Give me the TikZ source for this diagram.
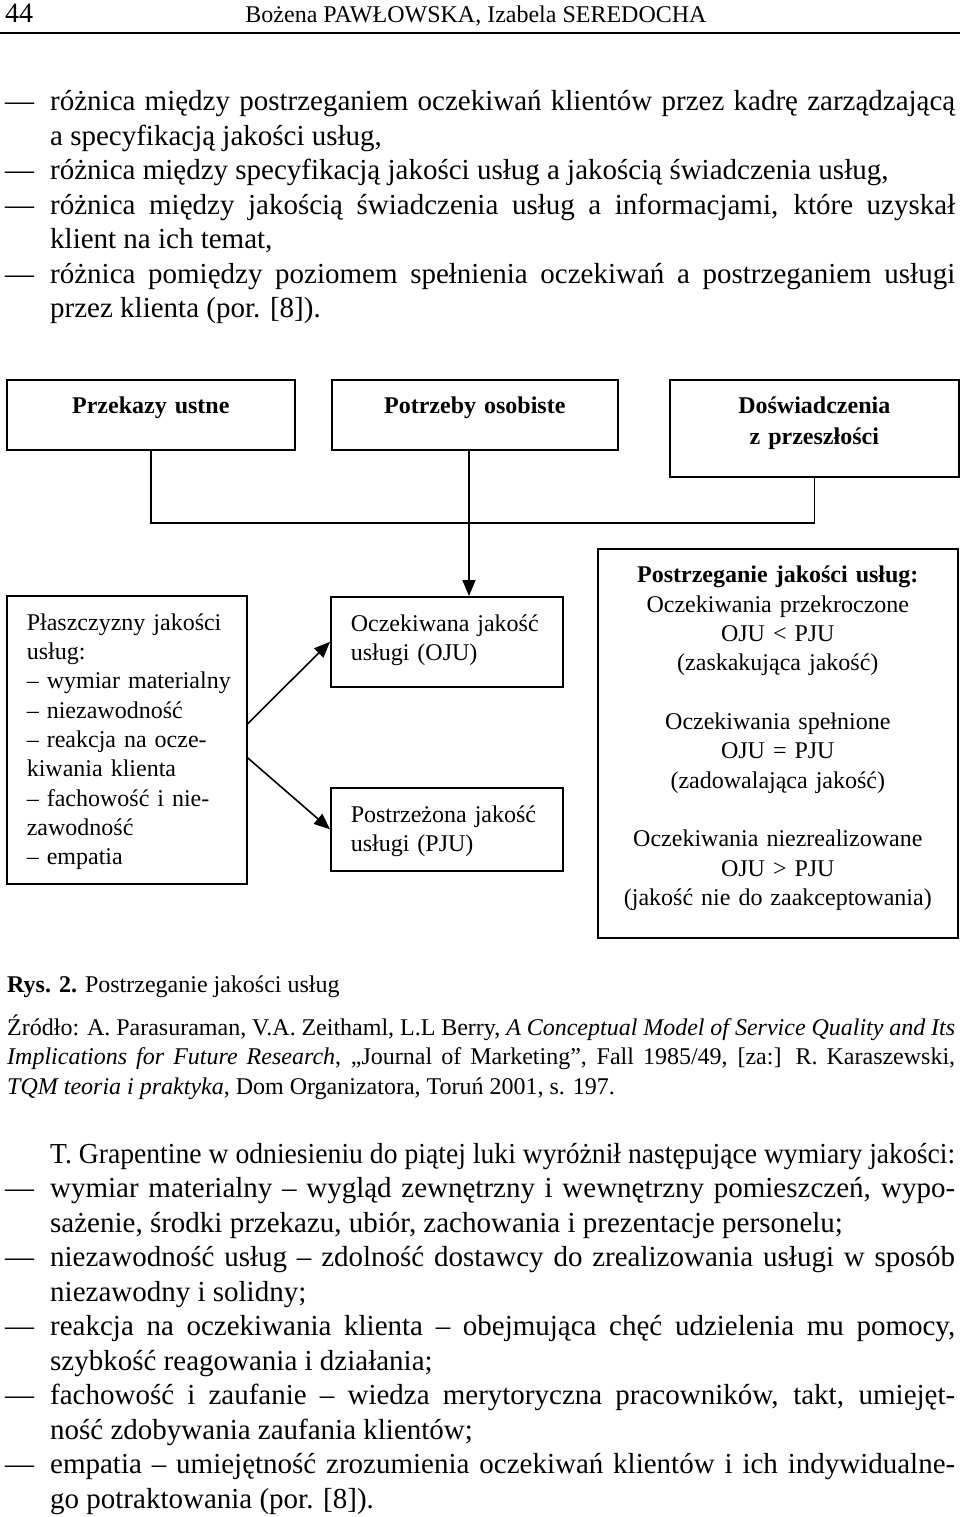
\documentclass[tikz,border=0pt]{standalone}
\usepackage{fontspec}
\usepackage{graphicx}
\setmainfont{Liberation Serif}
\usetikzlibrary{
    arrows.meta,
    positioning
}
\hyphenpenalty=10000
\tolerance=9999
\lineskiplimit=-50pt
\newcommand{\pozycja}{\hangindent=45pt\hangafter=1\makebox[45pt][l]{—}}

\begin{document}
\begin{tikzpicture}[x=1pt, y=-1pt,
    every node/.style={inner sep=0pt},
    tekst/.style={font=\fontsize{29}{34.5}\selectfont, text width=950pt, align=justify, anchor=base west},
    zrodlo/.style={font=\fontsize{24}{29.5}\selectfont, text width=948pt, align=justify, anchor=base west},
    ramka/.style={draw, line width=1.6pt, anchor=north west, font=\fontsize{24}{29.3}\selectfont},
    tytul/.style={ramka, align=center, text height=34pt, font=\fontsize{24}{31}\selectfont\bfseries},
    linia/.style={line width=1.6pt},
    strzalka/.style={linia, -{Triangle[length=16pt, width=13pt]}}]
                        \useasboundingbox (0,0) rectangle (960,1517);
                        % naglowek strony
                        \node[anchor=base west, font=\fontsize{28}{30}\selectfont] (strona) at (5,23) {44};
                        \node[anchor=base, font=\fontsize{24}{28}\selectfont] (autorzy) at (476,23) {Bożena PAWŁOWSKA, Izabela SEREDOCHA};
                        \draw[line width=1.5pt] (0,33) -- (960,33);
                        % tekst nad rysunkiem
                        \node[tekst] (gora) at (5,111) {\pozycja różnica między postrzeganiem oczekiwań klientów przez kadrę zarządzającą\linebreak a specyfikacją jakości usług,\par
                        \pozycja różnica między specyfikacją jakości usług a jakością świadczenia usług,\par
                        \pozycja różnica między jakością świadczenia usług a informacjami, które uzyskał\linebreak klient na ich temat,\par
                        \pozycja różnica pomiędzy poziomem spełnienia oczekiwań a postrzeganiem usługi\linebreak przez klienta (por. [8]).\par};
                        % rysunek
                        \node[tytul, text width=288pt, text depth=36pt] (przek) at (6,379) {Przekazy ustne};
                        \node[tytul, text width=286pt, text depth=36pt] (potrz) at (331,379) {Potrzeby osobiste};
                        \node[tytul, text width=289pt, text depth=63pt] (dosw) at (669,379) {Doświadczenia\\z przeszłości};
                        \node[ramka, text width=200pt, inner xsep=20pt, align=left, text height=34.5pt, text depth=253.5pt] (plasz) at (6,595)
                        {Płaszczyzny jakości\\usług:\\\mbox{– wymiar materialny}\\– niezawodność\\– reakcja na ocze-\\kiwania klienta\\– fachowość i nie-\\zawodność\\– empatia};
                        \node[ramka, text width=192pt, inner xsep=20pt, align=left, text height=34.5pt, text depth=55.5pt] (ocz) at (330,596)
                        {Oczekiwana jakość\\usługi (OJU)};
                        \node[ramka, text width=192pt, inner xsep=20pt, align=left, text height=34.5pt, text depth=48.5pt] (postr) at (330,787)
                        {Postrzeżona jakość\\usługi (PJU)};
                        \node[ramka, text width=340pt, inner xsep=10pt, align=center, text height=34pt, text depth=355pt] (ocen) at (597,548)
                        {\textbf{Postrzeganie jakości usług:}\\Oczekiwania przekroczone\\OJU < PJU\\(zaskakująca jakość)\\[29.4pt]
                        Oczekiwania spełnione\\OJU = PJU\\(zadowalająca jakość)\\[29.4pt]
                        Oczekiwania niezrealizowane\\OJU > PJU\\(jakość nie do zaakceptowania)};
                        \coordinate (wezel) at (469,523);
                        \draw[linia]
                        (przek.south) -- (przek.south |- wezel) -- (dosw.south |- wezel) -- (dosw.south);
                        \draw[strzalka] (wezel |- potrz.south) -- (wezel |- ocz.north);
                        \draw[strzalka] ([yshift=16pt]plasz.east) -- (ocz.west);
                        \draw[strzalka] ([yshift=-18pt]plasz.east) -- (postr.west);
                        % podpis i zrodlo
                        \node[anchor=base west, font=\fontsize{24}{29}\selectfont] (rys) at (7,992) {\textbf{Rys. 2.} Postrzeganie jakości usług};
                        \node[zrodlo] (zrodlo) at (7,1035) {Źródło: A. Parasuraman, V.A. Zeithaml, L.L Berry, \textit{A Conceptual Model of Service Quality and Its}\linebreak
                        \textit{Implications for Future Research}, „Journal of Marketing”, Fall 1985/49, [za:] R. Karaszewski,\linebreak
                        \textit{TQM teoria i praktyka}, Dom Organizatora, Toruń 2001, s. 197.};
                        % tekst pod rysunkiem
                        \node[tekst] (dol) at (5,1163) {\hspace*{45pt}\resizebox{905pt}{\height}{T. Grapentine w odniesieniu do piątej luki wyróżnił następujące wymiary jakości:}\par
                        \pozycja wymiar materialny – wygląd zewnętrzny i wewnętrzny pomieszczeń, wypo-\linebreak sażenie, środki przekazu, ubiór, zachowania i prezentacje personelu;\par
                        \pozycja niezawodność usług – zdolność dostawcy do zrealizowania usługi w sposób\linebreak niezawodny i solidny;\par
                        \pozycja reakcja na oczekiwania klienta – obejmująca chęć udzielenia mu pomocy,\linebreak szybkość reagowania i działania;\par
                        \pozycja fachowość i zaufanie – wiedza merytoryczna pracowników, takt, umiejęt-\linebreak ność zdobywania zaufania klientów;\par
                        \pozycja empatia – umiejętność zrozumienia oczekiwań klientów i ich indywidualne-\linebreak go potraktowania (por. [8]).\par};
                    \end{tikzpicture}
\end{document}
